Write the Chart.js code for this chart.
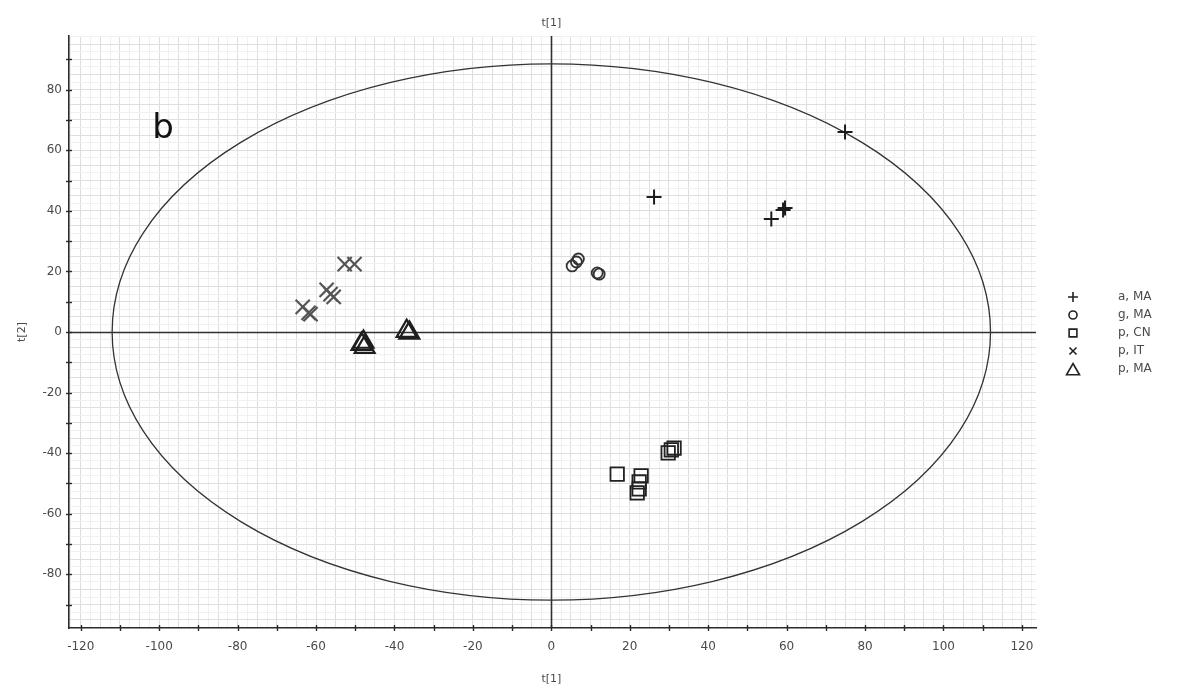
<!DOCTYPE html>
<html>
<head>
<meta charset="utf-8">
<script src="https://cdn.jsdelivr.net/npm/chart.js@4.4.1/dist/chart.umd.min.js"></script>
<style>
html,body{margin:0;padding:0;background:#ffffff;}
#wrap{width:1196px;height:692px;position:relative;}
canvas{display:block;}
</style>
</head>
<body>
<div id="wrap"><canvas id="c" width="1196" height="692"></canvas></div>
<script>
// ---- data ----
const seriesNames = ['a, MA', 'g, MA', 'p, CN', 'p, IT', 'p, MA'];

const aMA_x = [74.9, 26.2, 56.1, 59.1, 59.6];
const aMA_y = [66.0, 44.6, 37.3, 40.3, 40.9];

const gMA_x = [5.3, 6.4, 6.9, 11.7, 12.2];
const gMA_y = [21.8, 23.1, 24.1, 19.5, 19.1];

const pCN_x = [16.8, 22.9, 22.4, 22.4, 21.9, 29.8, 30.6, 31.3];
const pCN_y = [-46.9, -47.5, -49.5, -51.8, -53.1, -39.9, -38.9, -38.3];

const pIT_x = [-52.7, -50.2, -57.3, -56.3, -55.5, -63.4, -61.9, -61.4];
const pIT_y = [22.4, 22.4, 13.9, 12.5, 11.6, 8.3, 6.3, 5.9];

const pMA_x = [-48.4, -47.6, -47.9, -36.9, -36.2];
const pMA_y = [-4.0, -5.0, -3.3, 0.3, -0.3];

const xTickLabels = [-120, -100, -80, -60, -40, -20, 0, 20, 40, 60, 80, 100, 120];
const yTickLabels = [-80, -60, -40, -20, 0, 20, 40, 60, 80];

const ellipseA = 112;   // t[1] semi-axis
const ellipseB = 88.5;  // t[2] semi-axis
const panelLabel = 'b';
const xTitle = 't[1]';
const yTitle = 't[2]';

// ---- helpers ----
function pts(xs, ys) { return xs.map((v, i) => ({ x: v, y: ys[i] })); }
function range(a, b, s) { const out = []; const n = Math.round((b - a) / s); for (let i = 0; i <= n; i++) out.push(a + i * s); return out; }

const FONT = "'DejaVu Sans', Verdana, sans-serif";
const LABEL_COL = '#4a4a4a';

const styles = [
  { pointStyle: 'cross',    radius: 7.5, width: 2,   color: '#1c1c1c' },
  { pointStyle: 'circle',   radius: 5.5, width: 1.8, color: '#333333' },
  { pointStyle: 'rect',     radius: 9.5, width: 1.8, color: '#222222' },
  { pointStyle: 'crossRot', radius: 10,  width: 2.2, color: '#555555' },
  { pointStyle: 'triangle', radius: 11.5, width: 2.2, color: '#1e1e1e' }
];
const seriesData = [pts(aMA_x, aMA_y), pts(gMA_x, gMA_y), pts(pCN_x, pCN_y), pts(pIT_x, pIT_y), pts(pMA_x, pMA_y)];

function gridColor(ctx) {
  const v = ctx.tick ? ctx.tick.value : 1;
  if (Math.abs(v) < 1e-9) return 'rgba(0,0,0,0)';
  if (Math.abs(v % 5) < 1e-9) return '#dedede';
  return '#f0f0f0';
}

function drawSymbol(ctx, st, x, y, r) {
  const opts = { pointStyle: st.pointStyle, radius: r, rotation: 0, borderWidth: st.width };
  ctx.save();
  ctx.strokeStyle = st.color;
  ctx.fillStyle = 'rgba(0,0,0,0)';
  ctx.lineWidth = st.width;
  if (Chart.helpers && Chart.helpers.drawPoint) {
    Chart.helpers.drawPoint(ctx, opts, x, y);
  }
  ctx.restore();
}

const decor = {
  id: 'decor',
  beforeDatasetsDraw(chart) {
    const { ctx, chartArea: ca, scales: { x, y } } = chart;
    ctx.save();
    // zero lines
    ctx.strokeStyle = '#303030';
    ctx.lineWidth = 1.6;
    const zx = Math.round(x.getPixelForValue(0)) + 0.5;
    const zy = Math.round(y.getPixelForValue(0)) + 0.5;
    ctx.beginPath(); ctx.moveTo(zx, ca.top); ctx.lineTo(zx, ca.bottom); ctx.stroke();
    ctx.beginPath(); ctx.moveTo(ca.left, zy); ctx.lineTo(ca.right, zy); ctx.stroke();
    // confidence ellipse
    const cx = x.getPixelForValue(0), cy = y.getPixelForValue(0);
    const rx = x.getPixelForValue(ellipseA) - cx;
    const ry = cy - y.getPixelForValue(ellipseB);
    ctx.beginPath();
    ctx.ellipse(cx, cy, rx, ry, 0, 0, Math.PI * 2);
    ctx.strokeStyle = '#333333';
    ctx.lineWidth = 1.3;
    ctx.stroke();
    ctx.restore();
  },
  afterDraw(chart) {
    const { ctx, chartArea: ca, scales: { x, y } } = chart;
    ctx.save();
    // axis tick marks every 10 units
    ctx.strokeStyle = '#2a2a2a';
    ctx.lineWidth = 1.4;
    range(-120, 120, 10).forEach(v => {
      const px = Math.round(x.getPixelForValue(v)) + 0.5;
      ctx.beginPath(); ctx.moveTo(px, ca.bottom - 3); ctx.lineTo(px, ca.bottom + 3); ctx.stroke();
    });
    range(-90, 90, 10).forEach(v => {
      const py = Math.round(y.getPixelForValue(v)) + 0.5;
      ctx.beginPath(); ctx.moveTo(ca.left - 3, py); ctx.lineTo(ca.left + 3, py); ctx.stroke();
    });
    // titles
    ctx.fillStyle = LABEL_COL;
    ctx.font = '11px ' + FONT;
    ctx.textAlign = 'center';
    ctx.textBaseline = 'middle';
    const cx0 = x.getPixelForValue(0);
    ctx.fillText(xTitle, cx0, 23);
    ctx.fillText(xTitle, cx0, 679);
    ctx.save();
    ctx.translate(22, y.getPixelForValue(0));
    ctx.rotate(-Math.PI / 2);
    ctx.fillText(yTitle, 0, 0);
    ctx.restore();
    // panel label
    ctx.fillStyle = '#111';
    ctx.font = '34px ' + FONT;
    ctx.fillText(panelLabel, x.getPixelForValue(-99), y.getPixelForValue(67));
    // legend
    const legY0 = 297, legStep = 18;
    const symR = [5, 4, 5.5, 5, 7.5];
    seriesNames.forEach((name, i) => {
      const yy = legY0 + i * legStep;
      drawSymbol(ctx, Object.assign({}, styles[i], { width: 1.6, color: '#222' }), 1073, yy + (i === 4 ? 2 : 0), symR[i]);
      ctx.fillStyle = LABEL_COL;
      ctx.font = '12px ' + FONT;
      ctx.textAlign = 'left';
      ctx.textBaseline = 'middle';
      ctx.fillText(name, 1118, yy);
    });
    ctx.restore();
  }
};

new Chart(document.getElementById('c'), {
  type: 'scatter',
  data: {
    datasets: seriesData.map((d, i) => ({
      label: seriesNames[i],
      data: d,
      pointStyle: styles[i].pointStyle,
      pointRadius: styles[i].radius,
      pointHoverRadius: styles[i].radius,
      pointBorderWidth: styles[i].width,
      pointBorderColor: styles[i].color,
      pointBackgroundColor: 'rgba(0,0,0,0)',
      showLine: false
    }))
  },
  options: {
    responsive: false,
    animation: false,
    devicePixelRatio: 1,
    events: [],
    layout: { padding: { top: 36, right: 160, left: 0, bottom: 0 } },
    plugins: { legend: { display: false }, tooltip: { enabled: false }, title: { display: false } },
    scales: {
      x: {
        type: 'linear',
        min: -123,
        max: 123.6,
        afterFit(s) { s.height = 64; },
        afterBuildTicks(s) { s.ticks = range(-122.5, 122.5, 2.5).map(v => ({ value: v })); },
        grid: { color: gridColor, lineWidth: 1, drawTicks: false },
        border: { display: true, color: '#2a2a2a', width: 1.6 },
        ticks: {
          autoSkip: false, maxRotation: 0, padding: 12,
          color: LABEL_COL, font: { family: FONT, size: 12 },
          callback(v) { return xTickLabels.includes(v) ? String(v) : ''; }
        }
      },
      y: {
        type: 'linear',
        min: -97.7,
        max: 97.7,
        afterFit(s) { s.width = 69; },
        afterBuildTicks(s) { s.ticks = range(-97.5, 97.5, 2.5).map(v => ({ value: v })); },
        grid: { color: gridColor, lineWidth: 1, drawTicks: false },
        border: { display: true, color: '#2a2a2a', width: 1.6 },
        ticks: {
          autoSkip: false, padding: 7,
          color: LABEL_COL, font: { family: FONT, size: 12 },
          callback(v) { return yTickLabels.includes(v) ? String(v) : ''; }
        }
      }
    }
  },
  plugins: [decor]
});
</script>
</body>
</html>
